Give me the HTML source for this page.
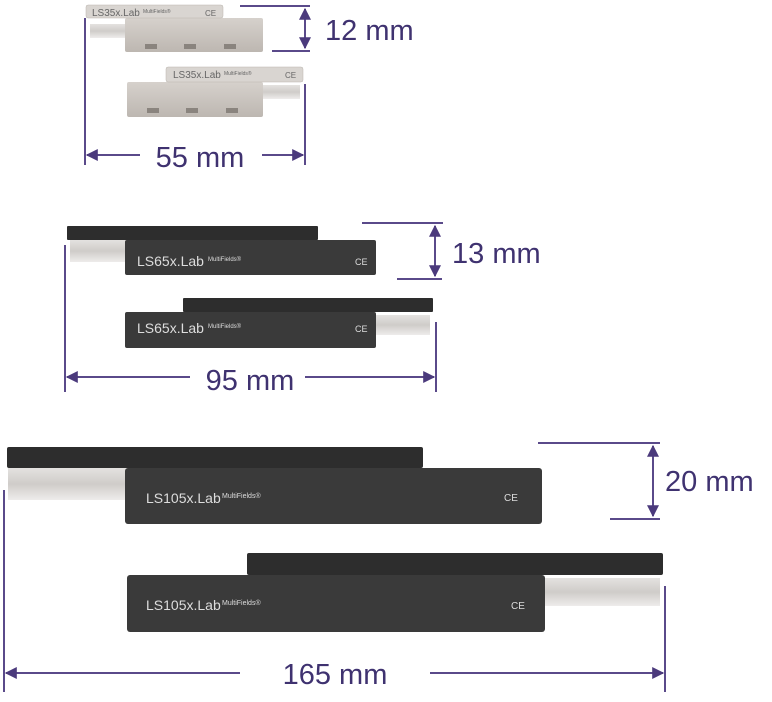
<!DOCTYPE html>
<html><head><meta charset="utf-8"><style>
html,body{margin:0;padding:0;background:#fff;}
svg{display:block}
text{font-family:"Liberation Sans",sans-serif;}
</style></head><body>
<svg width="772" height="702" viewBox="0 0 772 702" xmlns="http://www.w3.org/2000/svg">
<defs>
<marker id="a" viewBox="0 0 10 10" refX="9" refY="5" markerWidth="6" markerHeight="6" orient="auto-start-reverse"><path d="M0,0 L10,5 L0,10 z" fill="#4b3a7c"/></marker>
<linearGradient id="rail" x1="0" y1="0" x2="0" y2="1"><stop offset="0" stop-color="#e4e2e0"/><stop offset="0.5" stop-color="#cfccc9"/><stop offset="1" stop-color="#eeeceb"/></linearGradient>
<linearGradient id="sg" x1="0" y1="0" x2="0" y2="1"><stop offset="0" stop-color="#d6d1cc"/><stop offset="1" stop-color="#bdb7b1"/></linearGradient>
</defs>
<g stroke="#5a4a8a" stroke-width="2" fill="none">
<line x1="240" y1="6" x2="310" y2="6"/><line x1="272" y1="51" x2="310" y2="51"/>
<line x1="305" y1="9" x2="305" y2="48" marker-start="url(#a)" marker-end="url(#a)"/>
<line x1="85" y1="18" x2="85" y2="165"/><line x1="305" y1="84" x2="305" y2="165"/>
<line x1="87" y1="155" x2="140" y2="155" marker-start="url(#a)"/><line x1="262" y1="155" x2="303" y2="155" marker-end="url(#a)"/>
<line x1="362" y1="223" x2="443" y2="223"/><line x1="397" y1="279" x2="442" y2="279"/>
<line x1="435" y1="226" x2="435" y2="276" marker-start="url(#a)" marker-end="url(#a)"/>
<line x1="65" y1="245" x2="65" y2="392"/><line x1="436" y1="322" x2="436" y2="392"/>
<line x1="67" y1="377" x2="190" y2="377" marker-start="url(#a)"/><line x1="305" y1="377" x2="434" y2="377" marker-end="url(#a)"/>
<line x1="538" y1="443" x2="660" y2="443"/><line x1="610" y1="519" x2="660" y2="519"/>
<line x1="653" y1="446" x2="653" y2="516" marker-start="url(#a)" marker-end="url(#a)"/>
<line x1="4" y1="490" x2="4" y2="692"/><line x1="665" y1="586" x2="665" y2="692"/>
<line x1="6" y1="673" x2="240" y2="673" marker-start="url(#a)"/><line x1="430" y1="673" x2="663" y2="673" marker-end="url(#a)"/>
</g>
<g fill="#3f3270" font-size="29">
<text x="325" y="40">12 mm</text>
<text x="200" y="167" text-anchor="middle">55 mm</text>
<text x="452" y="263">13 mm</text>
<text x="250" y="390" text-anchor="middle">95 mm</text>
<text x="665" y="491">20 mm</text>
<text x="335" y="684" text-anchor="middle">165 mm</text>
</g>
<rect x="90" y="24" width="40" height="14" fill="url(#rail)"/>
<rect x="125" y="18" width="138" height="34" rx="2" fill="url(#sg)"/>
<rect x="86" y="5" width="137" height="13" rx="2" fill="#d9d5d1" stroke="#bbb5af" stroke-width="0.5"/>
<text x="92" y="16" font-size="10" fill="#666">LS35x.Lab</text><text x="143" y="13" font-size="5" fill="#666">MultiFields®</text><text x="205" y="16" font-size="8" fill="#666">CE</text>
<g fill="#8a847e"><rect x="145" y="44" width="12" height="5"/><rect x="184" y="44" width="12" height="5"/><rect x="224" y="44" width="12" height="5"/></g>
<rect x="258" y="85" width="42" height="14" fill="url(#rail)"/>
<rect x="127" y="82" width="136" height="35" rx="2" fill="url(#sg)"/>
<rect x="166" y="67" width="137" height="15" rx="2" fill="#d9d5d1" stroke="#bbb5af" stroke-width="0.5"/>
<text x="173" y="78" font-size="10" fill="#666">LS35x.Lab</text><text x="224" y="75" font-size="5" fill="#666">MultiFields®</text><text x="285" y="78" font-size="8" fill="#666">CE</text>
<g fill="#8a847e"><rect x="147" y="108" width="12" height="5"/><rect x="186" y="108" width="12" height="5"/><rect x="226" y="108" width="12" height="5"/></g>
<rect x="70" y="240" width="60" height="22" fill="url(#rail)"/>
<rect x="67" y="226" width="251" height="14" rx="1" fill="#2d2d2d"/>
<rect x="125" y="240" width="251" height="35" rx="2" fill="#3a3a3a"/>
<text x="137" y="266" font-size="14" fill="#ddd">LS65x.Lab</text><text x="208" y="261" font-size="6" fill="#ddd">MultiFields®</text><text x="355" y="265" font-size="9" fill="#ddd">CE</text>
<rect x="372" y="315" width="58" height="20" fill="url(#rail)"/>
<rect x="183" y="298" width="250" height="14" rx="1" fill="#2d2d2d"/>
<rect x="125" y="312" width="251" height="36" rx="2" fill="#3a3a3a"/>
<text x="137" y="333" font-size="14" fill="#ddd">LS65x.Lab</text><text x="208" y="328" font-size="6" fill="#ddd">MultiFields®</text><text x="355" y="332" font-size="9" fill="#ddd">CE</text>
<rect x="8" y="468" width="120" height="32" fill="url(#rail)"/>
<rect x="7" y="447" width="416" height="21" rx="2" fill="#2d2d2d"/>
<rect x="125" y="468" width="417" height="56" rx="3" fill="#3a3a3a"/>
<text x="146" y="503" font-size="14" fill="#ddd">LS105x.Lab</text><text x="222" y="498" font-size="7" fill="#ddd">MultiFields®</text><text x="504" y="501" font-size="10" fill="#ddd">CE</text>
<rect x="540" y="578" width="120" height="28" fill="url(#rail)"/>
<rect x="247" y="553" width="416" height="22" rx="2" fill="#2d2d2d"/>
<rect x="127" y="575" width="418" height="57" rx="3" fill="#3a3a3a"/>
<text x="146" y="610" font-size="14" fill="#ddd">LS105x.Lab</text><text x="222" y="605" font-size="7" fill="#ddd">MultiFields®</text><text x="511" y="609" font-size="10" fill="#ddd">CE</text>
</svg>
</body></html>
